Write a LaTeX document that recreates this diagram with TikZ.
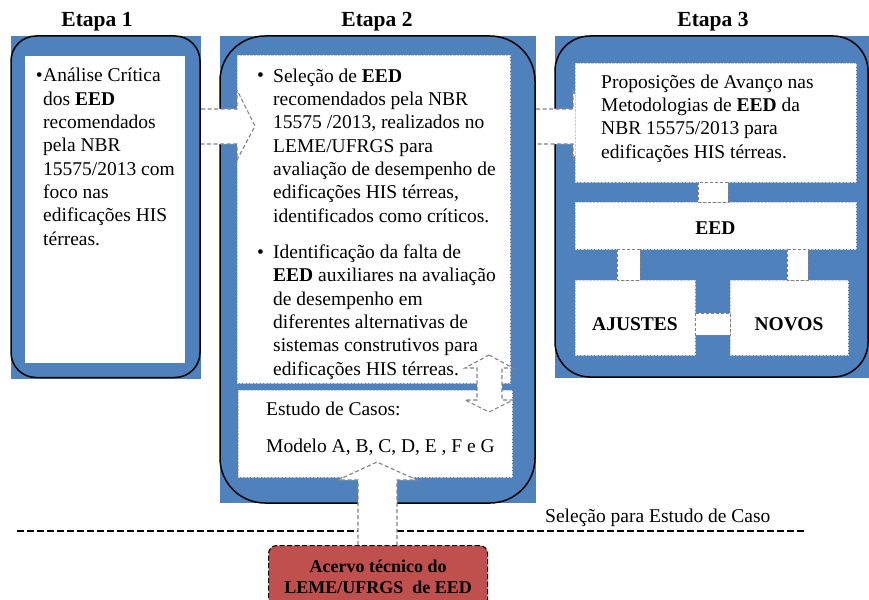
\documentclass[tikz,border=0pt]{standalone}
\usepackage{fontspec}
\setmainfont{Liberation Serif}
\definecolor{etapablue}{HTML}{4F81BD}
\definecolor{acervored}{HTML}{C0504D}
\tikzset{
  panel/.style={fill=etapablue, anchor=north west, inner sep=0, outer sep=0},
  frame/.style={draw=black, line width=1.5pt},
  whitebox/.style={fill=white, anchor=north west, inner sep=0, outer sep=0},
  faint/.style={draw=gray!40, line width=0.4pt, densely dotted},
  body/.style={font=\fontsize{19.5}{23.3}\selectfont, align=left, anchor=base west, inner sep=0},
  heading/.style={font=\fontsize{21.5}{24}\selectfont\bfseries, anchor=base, inner sep=0},
  blockarrow/.style={fill=white, draw=gray, dash pattern=on 4pt off 2.5pt, line width=1.1pt},
  link/.style={fill=white, draw=gray, dash pattern=on 3pt off 2pt, line width=0.9pt},
}
\begin{document}
\begin{tikzpicture}[x=1pt, y=-1pt]
\useasboundingbox (0,0) rectangle (869,599);
\node[heading] (h1) at (97,27) {Etapa 1};
\node[heading] (h2) at (377,27) {Etapa 2};
\node[heading] (h3) at (713,27) {Etapa 3};
\node[panel, minimum width=190, minimum height=343] (e1) at (11,36) {};
\node[panel, minimum width=316, minimum height=467] (e2) at (220,36) {};
\node[panel, minimum width=314, minimum height=342] (e3) at (555,36) {};
\draw[frame, rounded corners=25pt] (e1.north west) rectangle ([xshift=-1pt, yshift=1.5pt]e1.south east);
\draw[frame, rounded corners=45pt] (e2.north west) rectangle ([xshift=-1pt]e2.south east);
\draw[frame, rounded corners=35pt] (e3.north west) rectangle ([xshift=-1pt, yshift=1pt]e3.south east);
\draw[line width=1.5pt, dash pattern=on 7pt off 3pt] (17,531) -- (807,531);
\node[body] (sel) at (545,522) {Seleção para Estudo de Caso};
\draw[blockarrow] (536,109) -- (573,109) -- (573,90) -- (591,126) -- (573,160) -- (573,144) -- (536,144);
\node[whitebox, minimum width=160, minimum height=307] (t1) at (25,56) {};
\node[whitebox, faint, minimum width=273, minimum height=328] (t2) at (237,55) {};
\node[whitebox, faint, minimum width=274, minimum height=87] (cs) at (238,390) {};
\node[whitebox, faint, minimum width=281, minimum height=119] (p3) at (575,63) {};
\node[whitebox, faint, minimum width=281, minimum height=47] (eed) at (575,202) {};
\node[whitebox, faint, minimum width=120, minimum height=75] (aj) at (575,280) {};
\node[whitebox, faint, minimum width=118, minimum height=75] (nv) at (730,280) {};
\draw[link] (p3.south -| 698,0) rectangle (eed.north -| 728,0);
\draw[link] (eed.south -| 617,0) rectangle (aj.north -| 640,0);
\draw[link] (eed.south -| 787,0) rectangle (nv.north -| 808,0);
\draw[link] (aj.east |- 0,313) rectangle (nv.west |- 0,335);
\draw[blockarrow] (201,109) -- (237,109) -- (237,90) -- (255,126) -- (237,160) -- (237,144) -- (201,144);
\draw[blockarrow] (489,355) -- (513,368) -- (502,368) -- (502,400) -- (513,400) -- (489,412) -- (465,400) -- (477,400) -- (477,368) -- (465,368) -- cycle;
\draw[blockarrow] (358,545) -- (358,480) -- (338,480) -- (377,462) -- (417,480) -- (397,480) -- (397,545);
\node[body, anchor=base east] (b1) at (43,82) {\textbullet};
\node[body] (x1) at (43,245) {Análise Crítica\\dos \textbf{EED}\\recomendados\\pela NBR\\15575/2013 com\\foco nas\\edificações HIS\\térreas.};
\node[body] (b2) at (257,82) {\textbullet};
\node[body] (x2) at (273,222) {Seleção de \textbf{EED}\\recomendados pela NBR\\15575 /2013, realizados no\\LEME/UFRGS para\\avaliação de desempenho de\\edificações HIS térreas,\\identificados como críticos.};
\node[body] (b3) at (257,258) {\textbullet};
\node[body] (x3) at (273,375) {Identificação da falta de\\\textbf{EED} auxiliares na avaliação\\de desempenho em\\diferentes alternativas de\\sistemas construtivos para\\edificações HIS térreas.};
\node[body] (x4) at (266,452) {Estudo de Casos:\\[13.7pt]Modelo A, B, C, D, E , F e G};
\node[body] (x5) at (601,158) {Proposições de Avanço nas\\Metodologias de \textbf{EED} da\\NBR 15575/2013 para\\edificações HIS térreas.};
\node[font=\fontsize{19.5}{23.3}\selectfont\bfseries] at ([yshift=-3pt]eed.center) {EED};
\node[font=\fontsize{19.5}{23.3}\selectfont\bfseries] at ([yshift=-7pt]aj.center) {AJUSTES};
\node[font=\fontsize{19.5}{23.3}\selectfont\bfseries] at ([yshift=-7pt]nv.center) {NOVOS};
\node[draw, fill=acervored, dash pattern=on 5pt off 2.5pt, line width=1.2pt, rounded corners=8pt, minimum width=219, minimum height=62, anchor=north west, inner sep=0] (acervo) at (268,545) {};
\node[font=\fontsize{18}{21}\selectfont\bfseries, align=center] at (acervo.center) {Acervo técnico do\\LEME/UFRGS \ de EED};
\end{tikzpicture}
\end{document}
